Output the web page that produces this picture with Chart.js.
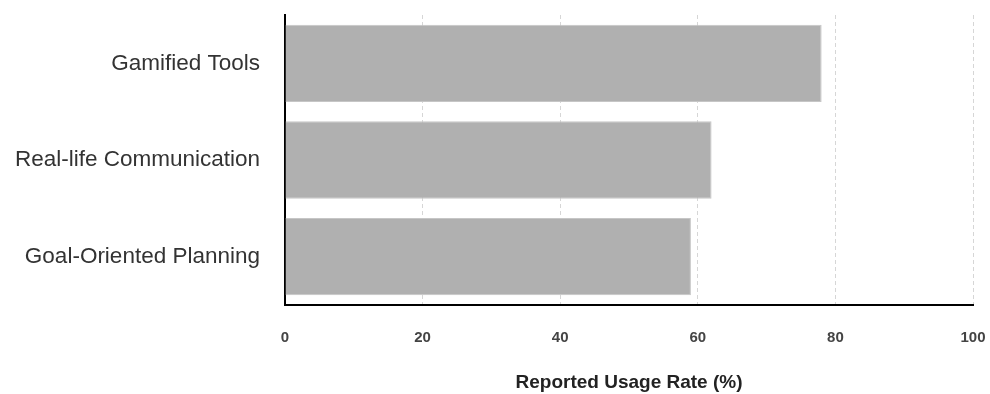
<!DOCTYPE html>
<html>
<head>
<meta charset="utf-8">
<script src="https://cdn.jsdelivr.net/npm/chart.js@4/dist/chart.umd.min.js"></script>
<style>
  html, body { margin: 0; padding: 0; background: #fff; }
  #wrap { width: 990px; height: 394px; }
</style>
</head>
<body>
<div id="wrap"><canvas id="usageChart" width="990" height="394"></canvas></div>
<script>
var categories = ["Gamified Tools", "Real-life Communication", "Goal-Oriented Planning"];
var usageRates = [78, 62, 59];
var xTicks = [0, 20, 40, 60, 80, 100];

var ctx = document.getElementById('usageChart').getContext('2d');
var chart = new Chart(ctx, {
    type: 'bar',
    data: {
        labels: categories,
        datasets: [{
            label: 'Reported Usage Rate (%)',
            data: usageRates,
            backgroundColor: '#b0b0b0',
            borderColor: '#c6c6c6',
            borderWidth: 1,
            barPercentage: 0.8,
            categoryPercentage: 1.0
        }]
    },
    options: {
        indexAxis: 'y',
        responsive: false,
        animation: false,
        layout: { padding: { left: 0, right: 17, top: 15, bottom: 0 } },
        plugins: {
            legend: { display: false },
            tooltip: { enabled: false }
        },
        scales: {
            x: {
                min: xTicks[0],
                max: xTicks[xTicks.length - 1],
                afterBuildTicks: function (axis) {
                    axis.ticks = xTicks.map(function (v) { return { value: v }; });
                },
                afterFit: function (axis) {
                    axis.height = 89;
                    axis.paddingLeft = 0;
                    axis.paddingRight = 0;
                },
                grid: {
                    color: '#d6d6d6',
                    drawTicks: false
                },
                border: { color: '#000', width: 2, dash: [4, 3] },
                ticks: {
                    padding: 24,
                    color: '#444',
                    font: { family: "'Liberation Sans', Arial, sans-serif", size: 15, weight: 'bold' }
                },
                title: {
                    display: true,
                    text: 'Reported Usage Rate (%)',
                    color: '#222',
                    padding: { top: 0, bottom: 0 },
                    font: { family: "'Liberation Sans', Arial, sans-serif", size: 19, weight: 'bold' }
                }
            },
            y: {
                afterFit: function (axis) {
                    axis.width = 285;
                    axis.paddingTop = 0;
                    axis.paddingBottom = 0;
                },
                grid: { display: false, drawTicks: false },
                border: { color: '#000', width: 2 },
                ticks: {
                    padding: 25,
                    color: '#333',
                    font: { family: "'Liberation Sans', Arial, sans-serif", size: 22.5 }
                }
            }
        }
    }
});
</script>
</body>
</html>
